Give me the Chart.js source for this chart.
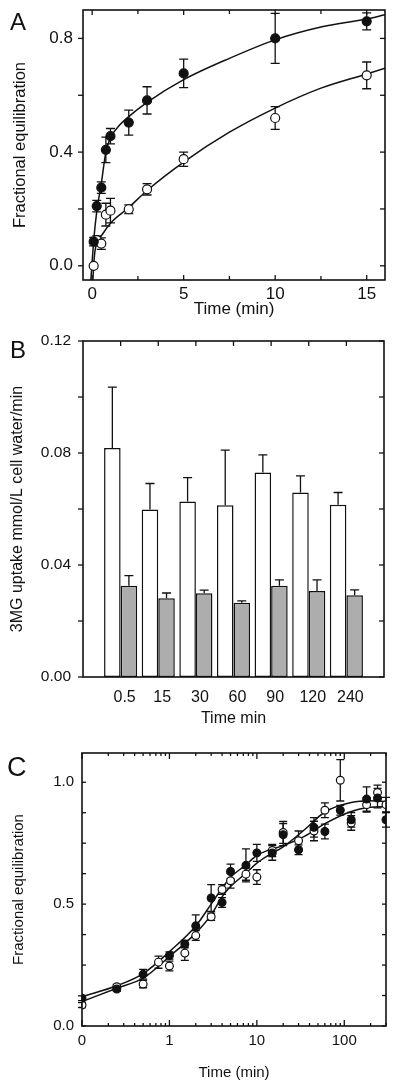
<!DOCTYPE html>
<html>
<head>
<meta charset="utf-8">
<script src="https://cdn.jsdelivr.net/npm/chart.js@4.4.0/dist/chart.umd.min.js"></script>
<style>
  body { margin: 0; background: #fff; width: 400px; height: 1090px; position: relative; overflow: hidden;
         font-family: "Liberation Sans", Arial, sans-serif; }
  canvas { position: absolute; left: 0; }
  .panel { position: absolute; line-height: 1; color: #111; }
</style>
</head>
<body>
<canvas id="chartA" width="400" height="320" style="top:0px"></canvas>
<canvas id="chartB" width="400" height="400" style="top:330px"></canvas>
<canvas id="chartC" width="400" height="350" style="top:740px"></canvas>
<div class="panel" style="left:10px;top:10px;font-size:24px">A</div>
<div class="panel" style="left:10px;top:338px;font-size:24px">B</div>
<div class="panel" style="left:7px;top:754px;font-size:27px">C</div>
<script>
// ---- panel A: fractional equilibration, 0-15 min ----
const timeA = [0.083, 0.25, 0.5, 0.75, 1, 2, 3, 5, 10, 15];
const filledA = [0.085, 0.21, 0.275, 0.408, 0.456, 0.504, 0.582, 0.677, 0.80, 0.86];
const filledErrA = [0.015, 0.02, 0.02, 0.045, 0.027, 0.044, 0.048, 0.05, 0.088, 0.03];
const openA = [0.0, 0.09, 0.078, 0.18, 0.194, 0.199, 0.269, 0.375, 0.52, 0.67];
const openErrA = [0, 0.015, 0.02, 0.04, 0.043, 0.015, 0.02, 0.025, 0.04, 0.047];
// fitted curves
const fitTimeFilledA = [-0.07, 0.1, 0.25, 0.5, 0.75, 1, 1.5, 2, 3, 5, 7.5, 10, 12.5, 15, 16];
const fitFilledA = [-0.05, 0.1, 0.19, 0.29, 0.4, 0.45, 0.495, 0.525, 0.575, 0.655, 0.73, 0.795, 0.84, 0.868, 0.883];
const fitTimeOpenA = [0.04, 0.083, 0.15, 0.25, 0.5, 1, 2, 3, 5, 7.5, 10, 12.5, 15, 16];
const fitOpenA = [-0.05, 0.0, 0.05, 0.08, 0.105, 0.15, 0.205, 0.265, 0.365, 0.47, 0.555, 0.625, 0.675, 0.695];
const xTicksA = [0, 2.5, 5, 7.5, 10, 12.5, 15];
const xLabelsA = [0, 5, 10, 15];
const yTicksA = [0, 0.2, 0.4, 0.6, 0.8];
const yLabelsA = [0, 0.4, 0.8];

// ---- panel B: 3MG uptake ----
const timesB = ['0.5', '15', '30', '60', '90', '120', '240'];
const openB = [0.0818, 0.0598, 0.0627, 0.0613, 0.073, 0.0659, 0.0615];
const openErrB = [0.0217, 0.0093, 0.0085, 0.0197, 0.0063, 0.0059, 0.0044];
const grayB = [0.0326, 0.0281, 0.0299, 0.0265, 0.0326, 0.0307, 0.0292];
const grayErrB = [0.0036, 0.0019, 0.0011, 0.0007, 0.0021, 0.004, 0.0019];
const yTicksB = [0, 0.02, 0.04, 0.06, 0.08, 0.1, 0.12];
const yLabelsB = [0, 0.04, 0.08, 0.12];

// ---- panel C: log time axis, time 0 is drawn at 0.1 ----
const timeC = [0.1, 0.25, 0.5, 0.75, 1, 1.5, 2, 3, 4, 5, 7.5, 10, 15, 20, 30, 45, 60, 90, 120, 180, 240, 300];
const filledC = [0.114, 0.152, 0.212, null, 0.289, 0.336, 0.411, 0.525, 0.507, 0.634, 0.659, 0.71, 0.71, 0.785, 0.723, 0.815, 0.798, 0.885, 0.846, 0.931, 0.935, 0.846];
const filledErrC = [0.01, 0.01, 0.02, 0, 0.015, 0.015, 0.045, 0.055, 0.02, 0.03, 0.068, 0.035, 0.03, 0.045, 0.02, 0.04, 0.03, 0.02, 0.03, 0.05, 0.04, 0.03];
const openC = [0.086, 0.161, 0.172, 0.262, 0.246, 0.299, 0.371, 0.448, 0.56, 0.596, 0.623, 0.611, 0.72, 0.794, 0.76, 0.80, 0.885, 1.008, 0.833, 0.908, 0.958, 0.908];
const openErrC = [0.01, 0.01, 0.015, 0.025, 0.02, 0.03, 0.02, 0.015, 0.02, 0.03, 0.025, 0.03, 0.025, 0.045, 0.04, 0.04, 0.03, 0.085, 0.03, 0.03, 0.03, 0.03];
const fitTimeC = [0.1, 0.25, 0.5, 1, 2, 3, 4, 5, 7.5, 10, 14, 20, 35, 60, 120, 200, 300];
const fitFilledC = [0.12, 0.165, 0.215, 0.305, 0.41, 0.5, 0.565, 0.61, 0.661, 0.70, 0.723, 0.74, 0.778, 0.83, 0.88, 0.897, 0.90];
const fitOpenC = [0.10, 0.155, 0.196, 0.285, 0.381, 0.456, 0.53, 0.572, 0.627, 0.668, 0.703, 0.735, 0.805, 0.878, 0.917, 0.924, 0.92];
const xTicksC = [0.1, 0.2, 0.3, 0.4, 0.5, 0.6, 0.7, 0.8, 0.9, 1, 2, 3, 4, 5, 6, 7, 8, 9,
                 10, 20, 30, 40, 50, 60, 70, 80, 90, 100, 200, 300];
const xLabelsC = { 0.1: '0', 1: '1', 10: '10', 100: '100' };
const yTicksC = [0, 0.125, 0.25, 0.375, 0.5, 0.625, 0.75, 0.875, 1];
const yLabelsC = [0, 0.5, 1];

const FONT = "'Liberation Sans', Arial, sans-serif";
Chart.defaults.font.family = FONT;
Chart.defaults.color = '#111';
Chart.defaults.animation = false;

const pts = (xs, ys) => xs.map((x, i) => ({ x: x, y: ys[i] }));
const noGrid = { display: false, drawTicks: false };

// force axis box size so the plot areas land where they are in the figure
function fixSize(px) {
  return s => {
    if (s.isHorizontal()) s.height = px; else s.width = px;
    s.paddingLeft = s.paddingRight = s.paddingTop = s.paddingBottom = 0;
  };
}
function setTicks(values) {
  return s => { s.ticks = values.map(v => ({ value: v })); };
}

// box round the plot + tick marks (in = +1, out = -1)
const framePlugin = {
  id: 'frame',
  afterDraw(chart, args, o) {
    const { ctx, chartArea: a } = chart;
    const sx = chart.scales.x, sy = chart.scales.y;
    ctx.save();
    ctx.strokeStyle = '#111';
    ctx.lineWidth = 1.3;
    const line = (x1, y1, x2, y2) => { ctx.beginPath(); ctx.moveTo(x1, y1); ctx.lineTo(x2, y2); ctx.stroke(); };
    sx.ticks.forEach(t => {
      const len = t.label ? o.xMajor : o.xMinor;
      if (!len) return;
      const x = sx.getPixelForValue(t.value);
      if (o.top) line(x, a.top, x, a.top + o.top * len);
      if (o.bottom) line(x, a.bottom, x, a.bottom - o.bottom * len);
    });
    sy.ticks.forEach(t => {
      const len = t.label ? o.yMajor : o.yMinor;
      if (!len) return;
      const y = sy.getPixelForValue(t.value);
      if (o.left) line(a.left, y, a.left + o.left * len, y);
      if (o.right) line(a.right, y, a.right - o.right * len, y);
    });
    ctx.lineWidth = 1.6;
    ctx.strokeRect(a.left, a.top, a.right - a.left, a.bottom - a.top);
    ctx.restore();
  }
};

function drawErrors(chart, o) {
  const { ctx } = chart;
  const sy = chart.scales.y;
  ctx.save();
  ctx.strokeStyle = '#111';
  ctx.lineWidth = 1.3;
  o.sets.forEach(([di, errs]) => {
    const meta = chart.getDatasetMeta(di);
    const data = chart.data.datasets[di].data;
    meta.data.forEach((el, i) => {
      const d = data[i];
      const v = d !== null && typeof d === 'object' ? d.y : d;
      const e = errs[i];
      if (v == null || !e) return;
      const x = el.x;
      const hi = sy.getPixelForValue(v + e);
      const lo = sy.getPixelForValue(o.up ? v : v - e);
      ctx.beginPath();
      ctx.moveTo(x, lo); ctx.lineTo(x, hi);
      ctx.moveTo(x - o.cap, hi); ctx.lineTo(x + o.cap, hi);
      if (!o.up) { ctx.moveTo(x - o.cap, lo); ctx.lineTo(x + o.cap, lo); }
      ctx.stroke();
    });
  });
  ctx.restore();
}
const errorBars = {
  id: 'errorBars',
  beforeDatasetsDraw(chart, args, o) { if (!o.up) drawErrors(chart, o); },
  afterDatasetsDraw(chart, args, o) { if (o.up) drawErrors(chart, o); }
};

const dots = (xs, ys, fill, r) => ({
  data: pts(xs, ys), showLine: false, pointRadius: r, pointHoverRadius: r,
  pointBackgroundColor: fill, pointBorderColor: '#111', pointBorderWidth: 1.2
});
const curve = (xs, ys) => ({
  data: pts(xs, ys), pointRadius: 0, borderColor: '#111', borderWidth: 1.5,
  cubicInterpolationMode: 'monotone', fill: false
});

// ---------- A ----------
new Chart(document.getElementById('chartA'), {
  type: 'line',
  data: {
    datasets: [
      dots(timeA, filledA, '#111', 4.5),
      dots(timeA, openA, '#fff', 4.5),
      curve(fitTimeFilledA, fitFilledA),
      curve(fitTimeOpenA, fitOpenA)
    ]
  },
  options: {
    responsive: false,
    layout: { padding: { top: 10, right: 15 } },
    plugins: {
      legend: { display: false }, tooltip: { enabled: false },
      frame: { left: -1, right: 1, top: 1, bottom: 1, xMajor: 5, xMinor: 4, yMajor: 5, yMinor: 5 },
      errorBars: { cap: 4.5, sets: [[0, filledErrA], [1, openErrA]] }
    },
    scales: {
      x: {
        type: 'linear', min: -0.5, max: 16,
        grid: noGrid, border: { display: false },
        afterBuildTicks: setTicks(xTicksA), afterFit: fixSize(40),
        ticks: { autoSkip: false, maxRotation: 0, padding: 4, font: { size: 17 },
                 callback: v => xLabelsA.includes(v) ? String(v) : '' },
        title: { display: true, text: 'Time (min)', font: { size: 17 }, padding: { top: 0, bottom: 0 } }
      },
      y: {
        min: -0.05, max: 0.9,
        grid: noGrid, border: { display: false },
        afterBuildTicks: setTicks(yTicksA), afterFit: fixSize(83),
        ticks: { autoSkip: false, padding: 10, font: { size: 17 },
                 callback: v => yLabelsA.includes(v) ? v.toFixed(1) : '' },
        title: { display: true, text: 'Fractional equilibration', font: { size: 16.5 }, padding: { top: 11, bottom: 0 } }
      }
    }
  },
  plugins: [framePlugin, errorBars]
});

// ---------- B ----------
new Chart(document.getElementById('chartB'), {
  type: 'bar',
  data: {
    labels: ['', ...timesB, ''],
    datasets: [
      { data: [null, ...openB, null], backgroundColor: '#ffffff', borderColor: '#111', borderWidth: 1.5,
        borderSkipped: false, categoryPercentage: 0.88, barPercentage: 1 },
      { data: [null, ...grayB, null], backgroundColor: '#adadad', borderColor: '#111', borderWidth: 1.5,
        borderSkipped: false, categoryPercentage: 0.88, barPercentage: 1 }
    ]
  },
  options: {
    responsive: false,
    layout: { padding: { top: 11, right: 16 } },
    plugins: {
      legend: { display: false }, tooltip: { enabled: false },
      frame: { left: -1, right: 1, top: 1, bottom: 0, xMajor: 5, xMinor: 0, yMajor: 5, yMinor: 5 },
      errorBars: { up: true, cap: 4.5, sets: [[0, [null, ...openErrB, null]], [1, [null, ...grayErrB, null]]] }
    },
    scales: {
      x: {
        offset: false,
        grid: noGrid, border: { display: false },
        afterFit: fixSize(53),
        ticks: { autoSkip: false, maxRotation: 0, padding: 11, labelOffset: 4, font: { size: 16 } },
        title: { display: true, text: 'Time min', font: { size: 16 }, padding: { top: 0, bottom: 2 } }
      },
      y: {
        min: 0, max: 0.12,
        grid: noGrid, border: { display: false },
        afterBuildTicks: setTicks(yTicksB), afterFit: fixSize(83),
        ticks: { autoSkip: false, padding: 12, font: { size: 15.5 },
                 callback: v => yLabelsB.includes(v) ? v.toFixed(2) : '' },
        title: { display: true, text: '3MG uptake mmol/L cell water/min', font: { size: 16 }, padding: { top: 8, bottom: 0 } }
      }
    }
  },
  plugins: [framePlugin, errorBars]
});

// ---------- C ----------
new Chart(document.getElementById('chartC'), {
  type: 'line',
  data: {
    datasets: [
      dots(timeC, filledC, '#111', 3.9),
      dots(timeC, openC, '#fff', 3.9),
      curve(fitTimeC, fitFilledC),
      curve(fitTimeC, fitOpenC)
    ]
  },
  options: {
    responsive: false,
    layout: { padding: { top: 13, right: 14 } },
    plugins: {
      legend: { display: false }, tooltip: { enabled: false },
      frame: { left: 1, right: 1, top: 1, bottom: 1, xMajor: 6, xMinor: 3, yMajor: 4, yMinor: 4 },
      errorBars: { cap: 4, sets: [[0, filledErrC], [1, openErrC]] }
    },
    scales: {
      x: {
        type: 'logarithmic', min: 0.1, max: 300,
        grid: noGrid, border: { display: false },
        afterBuildTicks: setTicks(xTicksC), afterFit: fixSize(64),
        ticks: { autoSkip: false, maxRotation: 0, padding: 6, font: { size: 15 },
                 callback: v => xLabelsC[v] || '' },
        title: { display: true, text: 'Time (min)', font: { size: 15 }, padding: { top: 0, bottom: 8 } }
      },
      y: {
        min: 0, max: 1.12,
        grid: noGrid, border: { display: false },
        afterBuildTicks: setTicks(yTicksC), afterFit: fixSize(82),
        ticks: { autoSkip: false, padding: 8, font: { size: 15 },
                 callback: v => yLabelsC.includes(v) ? v.toFixed(1) : '' },
        title: { display: true, text: 'Fractional equilibration', font: { size: 15 }, padding: { top: 10, bottom: 0 } }
      }
    }
  },
  plugins: [framePlugin, errorBars]
});
</script>
</body>
</html>
